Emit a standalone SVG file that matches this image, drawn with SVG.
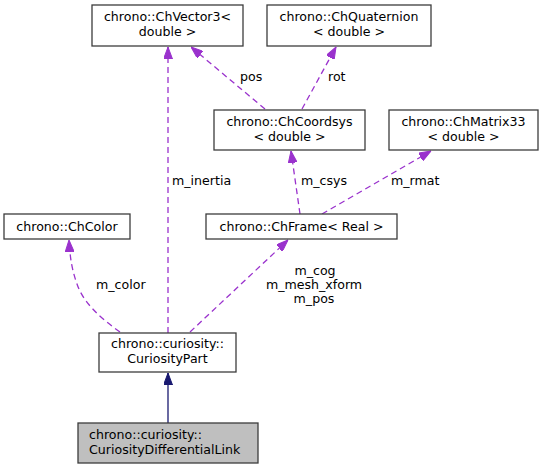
<svg xmlns="http://www.w3.org/2000/svg" width="544" height="469" viewBox="0 0 544 469">
<style>
.box{fill:#ffffff;stroke:#3c3c3c;stroke-width:1.3}
.focus{fill:#bfbfbf;stroke:#3c3c3c;stroke-width:1.3}
text{font-family:"DejaVu Sans","Liberation Sans",sans-serif;font-size:12.6px;fill:#000000}
.c{text-anchor:middle}
.e{fill:none;stroke:#9a32cd;stroke-width:1.3;stroke-dasharray:6,4}
.inh{fill:none;stroke:#191970;stroke-width:1.3}
</style>
<defs>
<marker id="ap" viewBox="0 0 12 9" refX="12" refY="4.5" markerWidth="12" markerHeight="9" orient="auto" markerUnits="userSpaceOnUse">
<path d="M0,0 L12,4.5 L0,9 z" fill="#9a32cd" stroke="#9a32cd" stroke-width="1"/>
</marker>
<marker id="ab" viewBox="0 0 12 9" refX="12" refY="4.5" markerWidth="12" markerHeight="9" orient="auto" markerUnits="userSpaceOnUse">
<path d="M0,0 L12,4.5 L0,9 z" fill="#191970" stroke="#191970" stroke-width="1"/>
</marker>
</defs>
<g id="connectors">
<path class="e" d="M168,333 L168,47" marker-end="url(#ap)"/>
<text x="172" y="185">m_inertia</text>
<path class="e" d="M265,109 L191,47" marker-end="url(#ap)"/>
<text x="240" y="81">pos</text>
<path class="e" d="M302,109 L336,47" marker-end="url(#ap)"/>
<text x="328" y="81">rot</text>
<path class="e" d="M300,214 L291,151" marker-end="url(#ap)"/>
<text x="301" y="185">m_csys</text>
<path class="e" d="M322,214 L431,151" marker-end="url(#ap)"/>
<text x="391" y="185">m_rmat</text>
<path class="e" d="M120,332 C100,318 83,302 77,284 C72,270 70,258 69,240" marker-end="url(#ap)"/>
<text x="96" y="289">m_color</text>
<path class="e" d="M190,332 L288,240" marker-end="url(#ap)"/>
<text class="c" x="315" y="275">m_cog</text>
<text class="c" x="314" y="289">m_mesh_xform</text>
<text class="c" x="314" y="303">m_pos</text>
<path class="inh" d="M168,423 L168,373" marker-end="url(#ab)"/>
</g>
<g id="ChVector3">
<rect class="box" x="92" y="5" width="151" height="41"/>
<text class="c" x="167.5" y="21">chrono::ChVector3&lt;</text>
<text class="c" x="167.5" y="35.5">double &gt;</text>
</g>
<g id="ChQuaternion">
<rect class="box" x="267" y="5" width="164" height="41"/>
<text class="c" x="349" y="21">chrono::ChQuaternion</text>
<text class="c" x="349" y="35.5">&lt; double &gt;</text>
</g>
<g id="ChCoordsys">
<rect class="box" x="214" y="110" width="151" height="40"/>
<text class="c" x="289.5" y="126">chrono::ChCoordsys</text>
<text class="c" x="289.5" y="140.5">&lt; double &gt;</text>
</g>
<g id="ChMatrix33">
<rect class="box" x="389" y="110" width="149" height="40"/>
<text class="c" x="463.5" y="126">chrono::ChMatrix33</text>
<text class="c" x="463.5" y="140.5">&lt; double &gt;</text>
</g>
<g id="ChColor">
<rect class="box" x="4" y="214" width="126" height="25"/>
<text class="c" x="67" y="231">chrono::ChColor</text>
</g>
<g id="ChFrame">
<rect class="box" x="206" y="214" width="191" height="25"/>
<text class="c" x="301.5" y="231">chrono::ChFrame&lt; Real &gt;</text>
</g>
<g id="CuriosityPart">
<rect class="box" x="99" y="333" width="137" height="39"/>
<text class="c" x="167.5" y="348">chrono::curiosity::</text>
<text class="c" x="167.5" y="362.5">CuriosityPart</text>
</g>
<g id="CuriosityDifferentialLink">
<rect class="focus" x="78" y="423" width="180" height="40"/>
<text x="89" y="439">chrono::curiosity::</text>
<text x="89" y="453.5">CuriosityDifferentialLink</text>
</g>
</svg>
